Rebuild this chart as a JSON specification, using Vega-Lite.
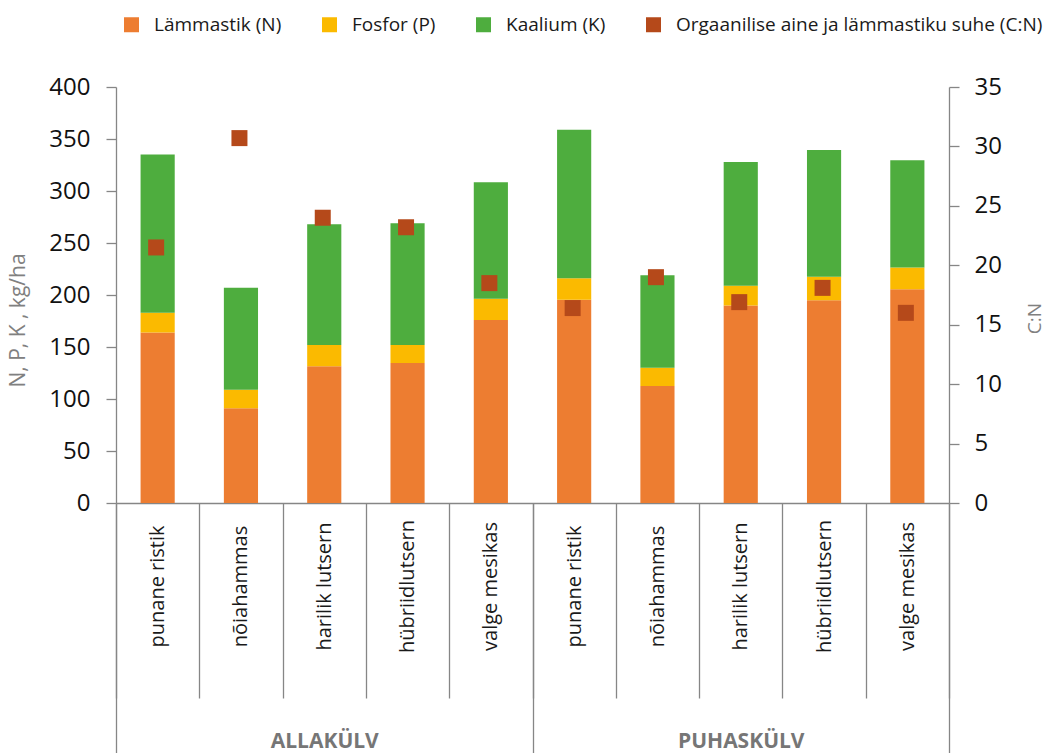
{
  "$schema": "https://vega.github.io/schema/vega-lite/v6.json",
  "width": 833,
  "height": 416,
  "autosize": {"type": "none"},
  "padding": {"left": 116, "top": 87, "right": 99, "bottom": 250},
  "background": "white",
  "config": {
    "font": "Open Sans",
    "view": {"stroke": null},
    "axis": {"domainColor": "#868686", "tickColor": "#868686", "domainWidth": 1.3, "tickWidth": 1.3, "grid": false, "labelFont": "Open Sans", "titleFont": "Open Sans"}
  },
  "datasets": {
    "crops": [
      {"id": "punane ristik|ALLAKÜLV", "N": 164, "P": 19, "K": 152, "CN": 21.5},
      {"id": "nõiahammas|ALLAKÜLV", "N": 91, "P": 18, "K": 98, "CN": 30.7},
      {"id": "harilik lutsern|ALLAKÜLV", "N": 131.5, "P": 20.5, "K": 116, "CN": 24.0},
      {"id": "hübriidlutsern|ALLAKÜLV", "N": 134.5, "P": 17.5, "K": 117, "CN": 23.2},
      {"id": "valge mesikas|ALLAKÜLV", "N": 176, "P": 20.5, "K": 112, "CN": 18.5},
      {"id": "punane ristik|PUHASKÜLV", "N": 195.5, "P": 20.5, "K": 143, "CN": 16.4},
      {"id": "nõiahammas|PUHASKÜLV", "N": 112.5, "P": 17.5, "K": 89, "CN": 19.0},
      {"id": "harilik lutsern|PUHASKÜLV", "N": 190, "P": 19, "K": 119, "CN": 16.9},
      {"id": "hübriidlutsern|PUHASKÜLV", "N": 195, "P": 22.5, "K": 122, "CN": 18.1},
      {"id": "valge mesikas|PUHASKÜLV", "N": 205.5, "P": 21, "K": 103, "CN": 16.0}
    ],
    "nutrients": [
      {"key": "N", "rank": 1, "label": "Lämmastik (N)"},
      {"key": "P", "rank": 2, "label": "Fosfor (P)"},
      {"key": "K", "rank": 3, "label": "Kaalium (K)"}
    ]
  },
  "data": {"name": "crops"},
  "layer": [
    {
      "transform": [
        {"fold": ["N", "P", "K"], "as": ["key", "value"]},
        {"lookup": "key", "from": {"data": {"name": "nutrients"}, "key": "key", "fields": ["rank", "label"]}}
      ],
      "mark": {"type": "bar", "width": {"band": 0.41}},
      "encoding": {
        "x": {
          "field": "id", "type": "nominal",
          "scale": {
            "domain": ["punane ristik|ALLAKÜLV", "nõiahammas|ALLAKÜLV", "harilik lutsern|ALLAKÜLV", "hübriidlutsern|ALLAKÜLV", "valge mesikas|ALLAKÜLV", "punane ristik|PUHASKÜLV", "nõiahammas|PUHASKÜLV", "harilik lutsern|PUHASKÜLV", "hübriidlutsern|PUHASKÜLV", "valge mesikas|PUHASKÜLV"],
            "paddingInner": 0, "paddingOuter": 0
          },
          "axis": {
            "orient": "bottom", "title": null, "tickBand": "extent", "tickSize": 195,
            "labelExpr": "isValid(datum.value) ? split(datum.value, '|')[0] : ''",
            "labelAngle": 270, "labelAlign": "center", "labelBaseline": "middle", "labelPadding": -112,
            "labelFontSize": 20, "labelColor": "#1a1a1a"
          }
        },
        "y": {
          "field": "value", "type": "quantitative", "stack": "zero",
          "scale": {"domain": [0, 400]},
          "axis": {
            "orient": "left", "values": [0, 50, 100, 150, 200, 250, 300, 350, 400],
            "tickSize": 10, "labelPadding": 16, "labelFontSize": 24, "labelColor": "#111111",
            "title": "N, P, K ,  kg/ha", "titleColor": "#808080", "titleFontSize": 21, "titleFontWeight": "normal",
            "titleAngle": 270, "titleAlign": "center", "titleBaseline": "middle", "titleX": -98, "titleY": 233
          }
        },
        "color": {
          "field": "label", "type": "nominal",
          "scale": {
            "domain": ["Lämmastik (N)", "Fosfor (P)", "Kaalium (K)", "Orgaanilise aine ja lämmastiku suhe (C:N)"],
            "range": ["#ED7D31", "#FBBA00", "#4EAD3E", "#B5491A"]
          },
          "legend": {
            "orient": "none", "legendX": 6, "legendY": -72, "direction": "horizontal", "columns": 4,
            "title": null, "labelFontSize": 19, "labelColor": "#1a1a1a", "labelFont": "Open Sans", "labelLimit": 0,
            "symbolType": "square", "symbolSize": 225, "symbolStrokeWidth": 0,
            "columnPadding": 38, "labelOffset": 13, "padding": 0
          }
        },
        "order": {"field": "rank", "type": "quantitative"}
      }
    },
    {
      "mark": {"type": "point", "shape": "square", "filled": true, "size": 256, "opacity": 1, "xOffset": -1.5},
      "encoding": {
        "x": {
          "field": "id", "type": "nominal",
          "axis": {
            "orient": "bottom", "title": null, "domain": false, "tickBand": "extent", "tickSize": 250,
            "tickOpacity": {"condition": {"test": "datum.value == 'valge mesikas|ALLAKÜLV' || datum.value == 'valge mesikas|PUHASKÜLV' || !isValid(datum.value)", "value": 1}, "value": 0},
            "labelExpr": "datum.value == 'harilik lutsern|ALLAKÜLV' ? 'ALLAKÜLV' : (datum.value == 'harilik lutsern|PUHASKÜLV' ? 'PUHASKÜLV' : '')",
            "labelAngle": 0, "labelAlign": "center", "labelBaseline": "middle", "labelPadding": -12,
            "labelFontSize": 21, "labelFontWeight": "bold", "labelColor": "#767676"
          }
        },
        "y": {
          "field": "CN", "type": "quantitative",
          "scale": {"domain": [0, 35]},
          "axis": {
            "orient": "right", "values": [0, 5, 10, 15, 20, 25, 30, 35],
            "tickSize": 10, "labelPadding": 15, "labelFontSize": 24, "labelColor": "#111111",
            "title": "C:N", "titleColor": "#808080", "titleFontSize": 19, "titleFontWeight": "normal",
            "titleAngle": 270, "titleAlign": "center", "titleBaseline": "middle", "titleX": 85, "titleY": 231
          }
        },
        "color": {"datum": "Orgaanilise aine ja lämmastiku suhe (C:N)"}
      }
    }
  ],
  "resolve": {"scale": {"y": "independent"}, "axis": {"x": "independent", "y": "independent"}}
}
